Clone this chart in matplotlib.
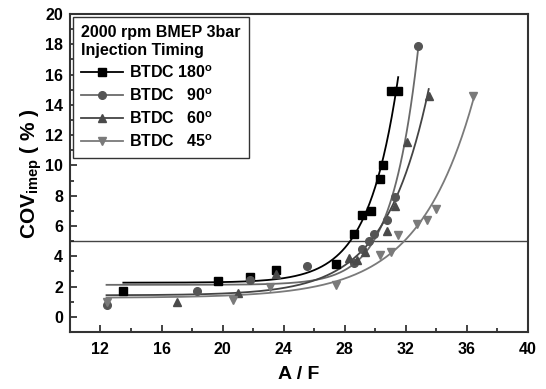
import numpy as np
import matplotlib
matplotlib.use("Agg")
import matplotlib.pyplot as plt
from matplotlib.lines import Line2D
from matplotlib.ticker import MultipleLocator

plt.rcParams['font.family'] = ['Liberation Sans', 'DejaVu Sans']
plt.rcParams['font.weight'] = 'bold'
plt.rcParams['mathtext.fontset'] = 'custom'
plt.rcParams['mathtext.rm'] = 'Liberation Sans'
plt.rcParams['mathtext.bf'] = 'Liberation Sans:bold'
plt.rcParams['mathtext.default'] = 'bf'

# Data
x_180 = [13.5, 19.7, 21.8, 23.5, 27.4, 28.6, 29.1, 29.7, 30.3, 30.5, 31.0, 31.5]
y_180 = [1.7, 2.35, 2.6, 3.1, 3.5, 5.5, 6.7, 7.0, 9.1, 10.0, 14.9, 14.9]

x_90 = [12.4, 18.3, 21.8, 25.5, 28.6, 29.1, 29.6, 29.9, 30.8, 31.3, 32.8]
y_90 = [0.8, 1.7, 2.45, 3.35, 3.55, 4.5, 5.0, 5.5, 6.4, 7.9, 17.9]

x_60 = [17.0, 21.0, 23.5, 28.3, 28.8, 29.3, 30.8, 31.3, 32.1, 33.5]
y_60 = [0.95, 1.55, 2.8, 3.9, 3.75, 4.3, 5.65, 7.3, 11.55, 14.6]

x_45 = [12.4, 20.7, 23.1, 27.4, 30.3, 31.0, 31.5, 32.7, 33.4, 34.0, 36.4]
y_45 = [1.0, 1.1, 2.0, 2.1, 4.1, 4.3, 5.4, 6.1, 6.4, 7.1, 14.6]

labels = ["BTDC 180$^{\\mathrm{o}}$", "BTDC   90$^{\\mathrm{o}}$",
          "BTDC   60$^{\\mathrm{o}}$", "BTDC   45$^{\\mathrm{o}}$"]
legend_title = "2000 rpm BMEP 3bar\nInjection Timing"
limit_value = 5

series = [
    (x_180, y_180, 's', '#000000', '#000000', 13.5),
    (x_90, y_90, 'o', '#555555', '#6a6a6a', 12.4),
    (x_60, y_60, '^', '#4a4a4a', '#444444', 12.4),
    (x_45, y_45, 'v', '#7a7a7a', '#7a7a7a', 12.4),
]


def exp_fit(x, y):
    x = np.asarray(x, float)
    y = np.asarray(y, float)
    xm = x.max()
    best = None
    for k in np.linspace(0.05, 3.0, 600):
        M = np.column_stack([np.ones_like(x), np.exp(k * (x - xm))])
        coef, *_ = np.linalg.lstsq(M, y, rcond=None)
        r = np.sum((M @ coef - y) ** 2)
        if best is None or r < best[0]:
            best = (r, k, coef)
    _, k, coef = best
    return lambda t: coef[0] + coef[1] * np.exp(k * (t - xm))


fig = plt.figure(figsize=(5.46, 3.89), dpi=100)
ax = fig.add_axes([0.128, 0.1465, 0.839, 0.8175])

ax.axhline(limit_value, color='#444444', lw=1.0, zorder=1)

handles = []
for (x, y, m, mc, lc, xs), lab in zip(series, labels):
    f = exp_fit(x, y)
    xx = np.linspace(xs, max(x), 300)
    ax.plot(xx, f(xx), color=lc, lw=1.3, zorder=2)
    ax.plot(x, y, linestyle='none', marker=m, color=mc, markersize=5.5, zorder=3)
    handles.append(Line2D([0], [0], color=lc, lw=1.3, marker=m, markerfacecolor=mc,
                          markeredgecolor=mc, markersize=5.5, label=lab))

ax.set_xlim(10, 40)
ax.set_ylim(-1, 20)
ax.set_xticks(np.arange(12, 41, 4))
ax.xaxis.set_minor_locator(MultipleLocator(2))
ax.yaxis.set_major_locator(MultipleLocator(2))
ax.yaxis.set_minor_locator(MultipleLocator(1))
ax.tick_params(which='both', direction='in', top=False, right=False, width=1.2, color='#222222')
ax.tick_params(which='major', length=5, labelsize=11.5)
ax.tick_params(axis='x', which='major', pad=7)
ax.tick_params(axis='y', which='major', pad=5)
ax.tick_params(which='minor', length=3)
for s in ax.spines.values():
    s.set_linewidth(1.5)
    s.set_color('#333333')

ax.set_xlabel("A / F", fontsize=14, fontweight='bold', labelpad=7)
ax.set_ylabel("COV$_{imep}$ ( % )", fontsize=15, fontweight='bold', labelpad=1)

leg = ax.legend(handles=handles, loc='upper left', title=legend_title,
                fontsize=11.5, title_fontproperties={'weight': 'bold', 'size': 11.5},
                fancybox=False, edgecolor='#333333', framealpha=1, alignment='left',
                handlelength=2.6, borderaxespad=0.2, labelspacing=0.4,
                handletextpad=0.4, borderpad=0.5)
leg.get_frame().set_linewidth(1.0)

fig.savefig("out.png", dpi=100)
